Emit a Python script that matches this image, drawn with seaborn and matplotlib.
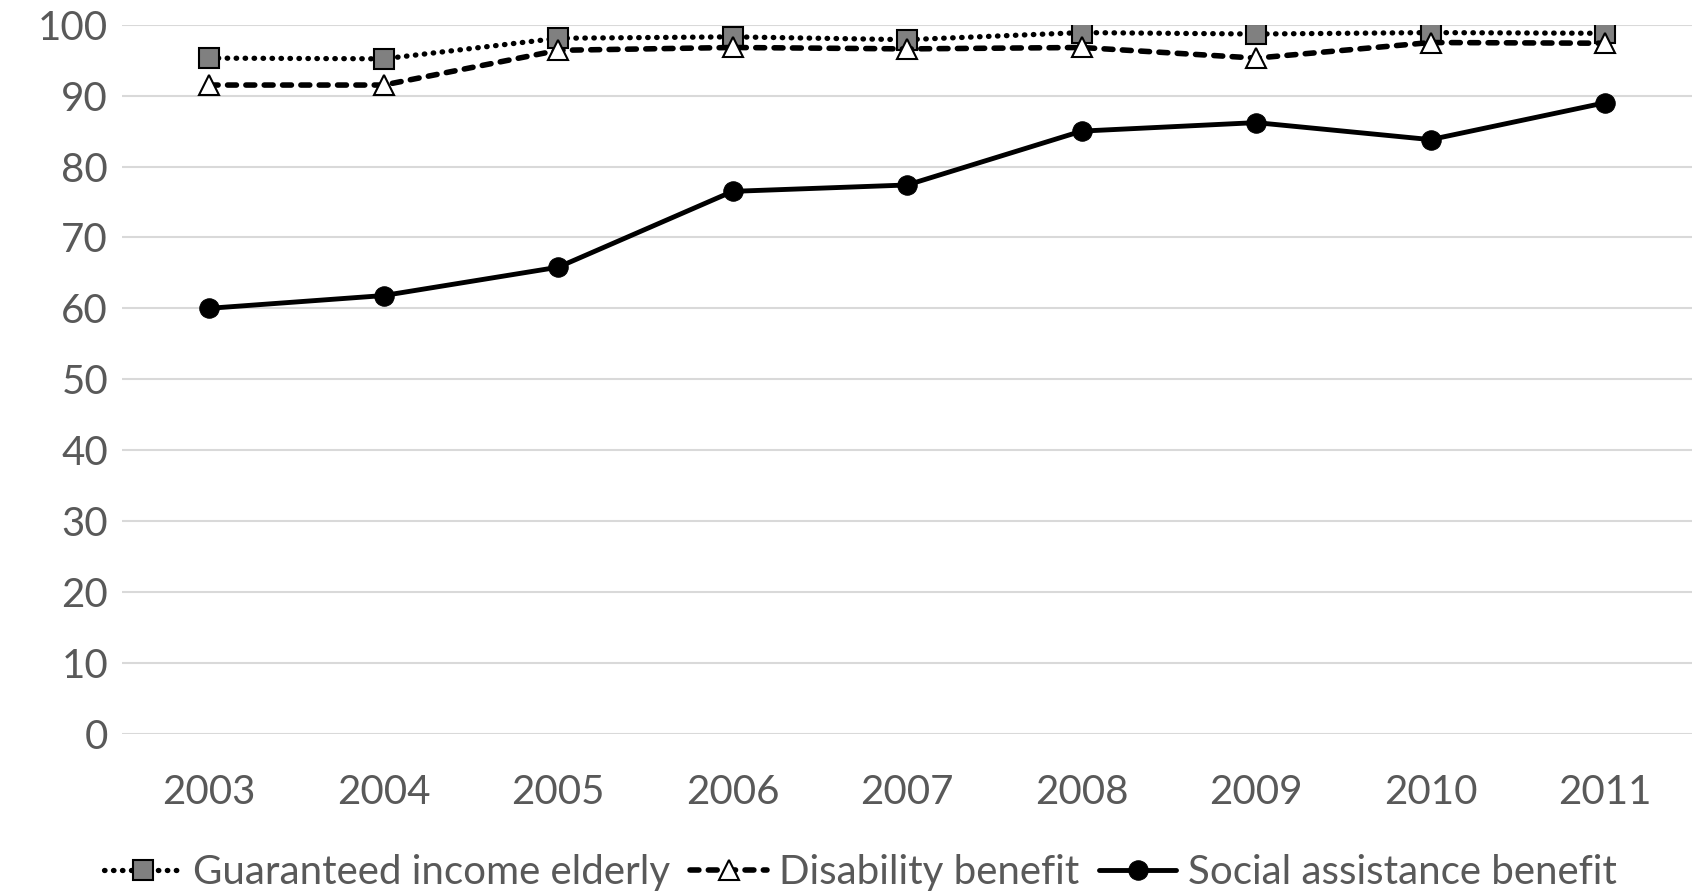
import pandas as pd
import seaborn as sns
import matplotlib.pyplot as plt

years = [2003, 2004, 2005, 2006, 2007, 2008, 2009, 2010, 2011]
guaranteed = [95.3, 95.2, 98.1, 98.3, 97.9, 98.9, 98.7, 98.9, 98.8]
disability = [91.5, 91.5, 96.4, 96.8, 96.6, 96.8, 95.3, 97.5, 97.4]
social = [60.0, 61.8, 65.8, 76.5, 77.4, 85.0, 86.2, 83.8, 89.0]

sns.set_style("white")
plt.rcParams['font.family'] = ['Lato', 'DejaVu Sans']

fig = plt.figure(figsize=(16.94, 8.92), dpi=100)
ax = fig.add_axes([0.072, 0.1776, 0.927, 0.7946])

# series drawn in this order so triangles sit above squares
sns.lineplot(x=years, y=guaranteed, ax=ax, color="black", lw=3.8,
             linestyle=(0, (0.1, 1.6)), dash_capstyle="round",
             marker="s", markersize=14, markerfacecolor="#808080",
             markeredgecolor="black", markeredgewidth=1.5,
             label="Guaranteed income elderly")
sns.lineplot(x=years, y=disability, ax=ax, color="black", lw=4,
             linestyle=(0, (1.6, 1.7)), dash_capstyle="round",
             marker="^", markersize=15, markerfacecolor="white",
             markeredgecolor="black", markeredgewidth=1.5,
             label="Disability benefit")
sns.lineplot(x=years, y=social, ax=ax, color="black", lw=3.5,
             marker="o", markersize=14, markerfacecolor="black",
             markeredgecolor="black",
             label="Social assistance benefit")

ax.set_xlim(2002.5, 2011.5)
ax.set_ylim(0, 100)
ax.set_xticks(years)
ax.set_xticklabels([str(y) for y in years])
ax.set_yticks(range(0, 101, 10))
ax.grid(axis="y", color="#d9d9d9", lw=1.5)
ax.set_axisbelow(True)
for s in ax.spines.values():
    s.set_visible(False)
ax.tick_params(axis="both", length=0, labelsize=29, labelcolor="#595959")
ax.tick_params(axis="x", pad=29)
ax.tick_params(axis="y", pad=10)

handles, labels = ax.get_legend_handles_labels()
ax.legend_.remove()
fig.legend(handles, labels, loc="center", bbox_to_anchor=(0.508, 0.022),
           ncol=3, frameon=False, fontsize=29, handlelength=1.9,
           handletextpad=0.3, columnspacing=0.5, labelcolor="#595959")

fig.savefig("out.png", dpi=100)
